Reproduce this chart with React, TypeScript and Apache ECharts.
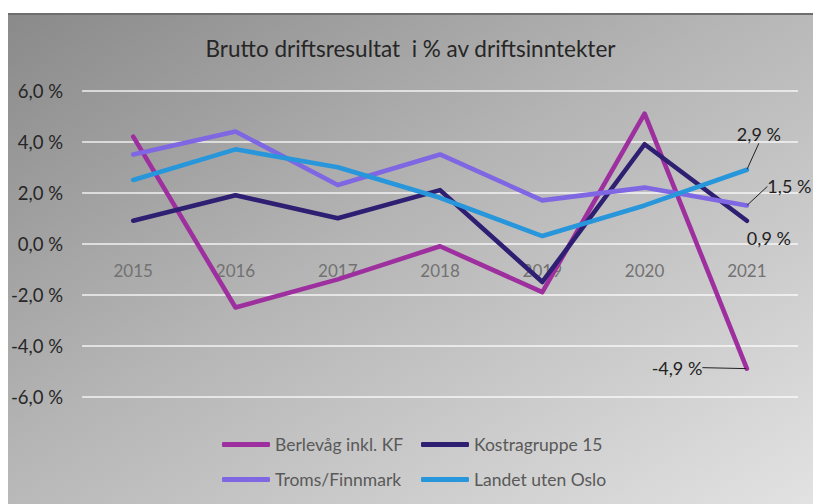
import React, { useEffect, useRef } from "react";
import * as echarts from "echarts";

const years = ["2015", "2016", "2017", "2018", "2019", "2020", "2021"];
const berlevag = [4.2, -2.5, -1.4, -0.1, -1.9, 5.1, -4.9];
const kostra15 = [0.9, 1.9, 1.0, 2.1, -1.5, 3.9, 0.9];
const tromsFinnmark = [3.5, 4.4, 2.3, 3.5, 1.7, 2.2, 1.5];
const landetUtenOslo = [2.5, 3.7, 3.0, 1.8, 0.3, 1.5, 2.9];

const names = ["Berlevåg inkl. KF", "Kostragruppe 15", "Troms/Finnmark", "Landet uten Oslo"];
const colors = ["#9E2F9E", "#2E1F72", "#7F66E3", "#2796DA"];

const FONT = "Lato";
const fmt = (v: number) => v.toFixed(1).replace(".", ",") + " %";

export default function App() {
  const ref = useRef<HTMLDivElement>(null);
  useEffect(() => {
    if (!ref.current) return;
    const chart = echarts.init(ref.current, null, { renderer: "svg" });
    const labelBase = {
      formatter: (p: any) => fmt(p.value),
      color: "#222",
      fontSize: 18,
      fontFamily: FONT,
    };
    const mkSeries = (i: number, values: number[], position: string, dx: number, dy: number, line: boolean) => ({
      name: names[i],
      type: "line",
      data: values.map((v, k) =>
        k === values.length - 1 ? { value: v, label: { show: true, ...labelBase, position } } : v
      ),
      showSymbol: true,
      symbol: "circle",
      symbolSize: 1,
      label: { show: false },
      labelLayout: { dx, dy },
      labelLine: { show: line, lineStyle: { color: "#222", width: 1 } },
      lineStyle: { color: colors[i], width: 4.6, cap: "round", join: "round" },
      itemStyle: { color: colors[i] },
    });
    const legendBase = {
      orient: "vertical",
      top: 414.5,
      icon: "roundRect",
      itemWidth: 48,
      itemHeight: 5,
      itemGap: 15,
      textStyle: { color: "#595959", fontSize: 17.5, fontFamily: FONT, lineHeight: 20 },
    };
    chart.setOption({
      animation: false,
      backgroundColor: "transparent",
      title: {
        text: "Brutto driftsresultat  i % av driftsinntekter",
        left: "center",
        top: 17,
        textStyle: { fontFamily: FONT, fontSize: 22.5, fontWeight: "normal", color: "#262626" },
      },
      grid: { left: 74, right: 15, top: 75.7, bottom: 107.3 },
      xAxis: {
        type: "category",
        data: years,
        boundaryGap: true,
        offset: -153,
        axisLine: { show: false, onZero: false },
        axisTick: { show: false },
        axisLabel: { color: "#727272", fontSize: 17, fontFamily: FONT, margin: 18 },
        splitLine: { show: false },
      },
      yAxis: {
        type: "value",
        min: -6,
        max: 6,
        interval: 2,
        axisLine: { show: false },
        axisTick: { show: false },
        axisLabel: {
          color: "#262626",
          fontSize: 18.5,
          fontFamily: FONT,
          margin: 19,
          formatter: (v: number) => fmt(v),
        },
        splitLine: { lineStyle: { color: "rgba(255,255,255,0.85)", width: 1.5 } },
      },
      legend: [
        { ...legendBase, data: [names[0], names[2]], left: 209, itemTextGap: 3 },
        { ...legendBase, data: [names[1], names[3]], left: 408, itemTextGap: 1 },
      ],
      series: [
        mkSeries(0, berlevag, "left", -39, -1, true),
        mkSeries(1, kostra15, "bottom", 22, 3, false),
        mkSeries(2, tromsFinnmark, "right", 15, -19, true),
        mkSeries(3, landetUtenOslo, "top", 12, -21, true),
      ],
    });
    return () => chart.dispose();
  }, []);
  return (
    <div
      ref={ref}
      style={{
        position: "absolute",
        left: 8,
        top: 13,
        width: 805,
        height: 489,
        borderTop: "2px solid #6e6e6e",
        background: "linear-gradient(to bottom right, #8a8a8a 0%, #b5b5b5 45%, #e2e2e2 100%)",
      }}
    />
  );
}
